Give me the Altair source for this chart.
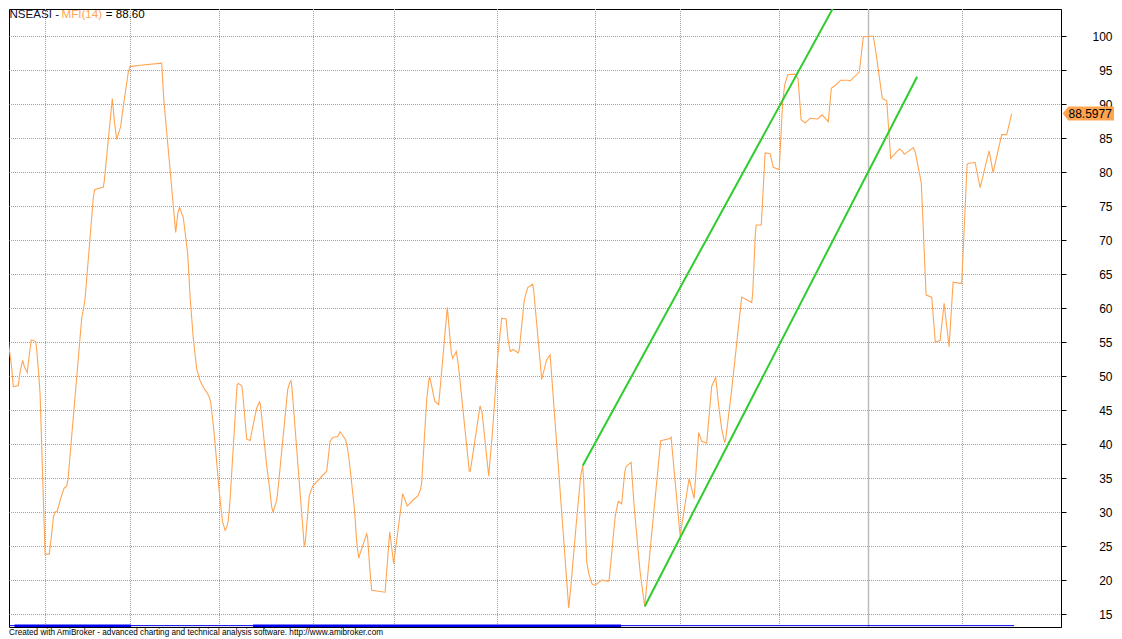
import altair as alt
import pandas as pd

# ---------------- data ----------------
# bar position (one unit = one trading-day slot) and MFI(14) value
bars = [0, 0.6, 1.1, 2.0, 3.2, 4.0, 6.5, 7.4, 8.7, 9.6, 11.0, 11.6, 13.0, 15.2, 15.7, 16.9, 17.4,
        19.9, 22.0, 23.2, 24.1, 24.9, 26.0, 27.4, 29.4, 30.7, 31.4, 38.2, 39.4, 39.9, 44.0, 44.7,
        49.0, 49.5, 53.5, 54.7, 55.7, 57.7, 58.4, 61.5, 62.4, 67.4, 78.2, 79.2, 85.2, 86.2, 87.1,
        89.0, 90.0, 91.2, 92.4, 94.0, 95.7, 97.4, 99.5, 101.0, 102.1, 102.7, 103.7, 104.7, 105.7,
        106.7, 107.7, 108.7, 109.9, 110.7, 111.4, 111.9, 112.4, 115.9, 116.5, 118.2, 118.7, 120.7,
        122.4, 124.0, 125.7, 127.1, 127.6, 129.2, 130.7, 132.2, 133.2, 133.9, 135.7, 136.2, 141.2,
        142.2, 142.9, 143.4, 149.5, 150.0, 152.0, 153.7, 160.7, 161.4, 162.4, 163.9, 166.2, 167.4,
        170.0, 170.7, 171.7, 172.7, 174.7, 175.7, 176.7, 177.4, 180.7, 181.2, 182.2, 183.2, 189.9,
        192.2, 194.2, 198.7, 201.0, 204.0, 206.4, 207.7, 208.2, 209.7, 210.7, 211.7, 212.2, 213.2,
        214.7, 216.7, 221.0, 223.0, 223.7, 225.5, 226.5, 232.0, 232.5, 237.4, 238.4, 241.7, 243.7,
        246.2, 248.2, 250.4, 251.4, 252.5, 253.9, 256.5, 257.0, 259.5, 261.2, 263.7, 264.2, 268.2,
        270.7, 272.4, 273.2, 281.7, 282.7, 285.7, 287.7, 288.7, 289.2, 290.7, 291.7, 293.4, 294.9,
        298.2, 301.5, 302.0, 305.0, 306.5, 308.2, 309.7, 310.4, 312.9, 314.4, 317.4, 319.7, 327.7,
        332.4, 332.9, 337.4, 341.9, 344.4, 345.2, 346.7, 348.2, 350.7, 353.2, 355.2, 356.7, 358.2,
        359.7, 360.2, 363.2, 368.2, 373.2, 373.7, 375.0, 375.5, 378.0, 379.9, 382.4, 384.0, 386.5,
        387.0, 388.7, 389.7, 391.2, 394.9, 396.4, 397.9, 399.9, 402.4, 406.2, 408.4, 411.5, 413.0,
        415.2, 417.7, 421.5, 422.4, 427.0, 429.0, 434.0, 435.5, 438.5, 440.7, 442.7, 447.0, 448.4,
        449.5, 454.0, 455.0, 458.0, 460.4, 463.2, 465.0, 467.4, 469.4, 471.9, 473.9, 478.2, 480.9,
        481.5, 484.9, 487.4, 491.9, 493.9, 498.2, 500.7, 503.2]
mfi = [58.1, 57.3, 56.2, 53.9, 51.2, 48.4, 48.6, 50.6, 52.3, 51.3, 50.5, 52.2, 55.3, 55.1, 53.9, 49.5, 47.3,
       23.8, 23.8, 26.8, 29.3, 30.0, 30.1, 31.7, 33.5, 33.8, 34.9, 58.5, 60.4, 61.4, 76.2, 77.4,
       77.8, 78.7, 90.8, 87.0, 84.8, 86.7, 88.4, 94.7, 95.5, 95.7, 96.0, 90.8, 71.1, 73.8, 74.8,
       73.3, 70.9, 68.0, 61.6, 55.5, 51.0, 49.3, 48.1, 47.5, 46.8, 46.1, 43.6, 40.7, 37.3,
       33.9, 30.9, 28.5, 27.3, 27.7, 28.6, 30.0, 31.9, 48.7, 48.9, 48.6, 47.5, 40.7,
       40.5, 42.9, 45.3, 46.2, 45.7, 41.1, 36.8, 33.4, 30.7, 30.0, 31.7, 32.9, 48.0,
       49.0, 49.3, 48.0, 24.9, 25.6, 32.4, 33.8, 36.0, 37.8, 40.4, 41.0, 41.1, 41.8,
       40.7, 40.0, 38.2, 35.6, 30.0, 25.6, 23.2, 23.9, 26.8, 26.1, 21.8, 18.5, 18.2,
       27.1, 22.4, 32.7, 30.9, 31.8, 32.4, 33.4, 34.4, 41.7, 46.5, 49.2, 49.9, 48.5,
       46.3, 45.8, 60.1, 53.4, 52.6, 53.6, 51.7, 36.0, 36.0, 45.6, 44.6, 35.3, 42.2,
       52.8, 58.5, 58.4, 55.3, 53.6, 53.9, 53.4, 53.9, 61.2, 63.0, 63.5, 62.6, 49.5,
       52.4, 53.1, 50.0, 15.9, 18.8, 29.0, 35.3, 36.8, 34.4, 22.7, 21.0, 19.4, 19.2,
       20.0, 19.8, 20.2, 29.5, 31.6, 31.2, 35.8, 36.7, 37.3, 30.9, 21.2, 16.1, 40.5,
       40.8, 41.0, 26.5, 34.9, 32.0, 35.3, 41.7, 40.4, 40.1, 48.5, 49.8, 45.6, 42.2,
       40.2, 40.7, 48.0, 61.6, 60.8, 62.1, 70.9, 72.2, 72.2, 82.8, 82.7, 80.7, 80.4,
       80.6, 90.4, 92.8, 94.3, 94.4, 93.7, 87.7, 87.2, 87.9, 87.8, 88.4, 87.4, 92.3,
       92.8, 93.5, 93.5, 93.4, 94.7, 99.85, 100.0, 97.2, 90.8, 90.5, 82.0, 83.4, 83.1,
       82.6, 83.6, 82.9, 78.4, 61.9, 61.6, 55.0, 55.2, 60.7, 54.3, 63.8, 63.6, 81.1,
       81.3, 81.4, 77.7, 83.1, 79.9, 85.5, 85.5, 88.5977]

month_grid = [20.1, 62.6, 107.1, 154.1, 194.6, 246.1, 295.1, 337.6, 387.1, 478.6]
year_grid = [431.6]

upper_x = [288.7, 420.0]
upper_v = [36.8, 107.4]
lower_x = [319.7, 455.9]
lower_v = [16.1, 94.0]

ribbon_thin_start = [-0.65]
ribbon_thin_end = [504.4]
ribbon_thick_start = [4.6, 123.9]
ribbon_thick_end = [62.9, 307.9]

y_ticks = [15, 20, 25, 30, 35, 40, 45, 50, 55, 60, 65, 70, 75, 80, 85, 90, 95, 100]
last_value = 88.5977

title_left = "NSEASI -"
title_mid = "MFI(14)"
title_right = "= 88.60"
footer = ("Created with AmiBroker - advanced charting and technical analysis software. "
          "http://www.amibroker.com")

# ---------------- styling ----------------
ORANGE = "#FFA552"
GREEN = "#2ECC2E"
GRID = "#A0A0A0"
FONT = "Liberation Sans"
W, H = 1052, 618
PX_PER_UNIT = 6.8               # 34 px between 5-point grid lines (crisp dotted lines)
Y_TOP = 100 + 27 / PX_PER_UNIT  # value shown at the top edge of the plot
Y_BOTTOM = Y_TOP - H / PX_PER_UNIT
xs = alt.Scale(domain=[1.85, 527.85], nice=False, zero=False)
ys = alt.Scale(domain=[Y_BOTTOM, Y_TOP], nice=False, zero=False)

y_axis = alt.Axis(
    orient="right", values=y_ticks, title=None,
    grid=True, gridColor=GRID, gridDash=[1, 1], gridDashOffset=0.5, gridWidth=1,
    domain=True, domainColor="black", domainWidth=1,
    ticks=True, tickColor="black", tickSize=5, tickWidth=1,
    labelColor="black", labelFont=FONT, labelFontSize=12,
    labelAlign="right", labelBaseline="middle", labelPadding=46,
    labelOverlap=False)

X = lambda f="b:Q": alt.X(f, scale=xs, axis=None)
Y = lambda f="v:Q": alt.Y(f, scale=ys, axis=y_axis)

line_df = pd.DataFrame({"b": bars, "v": mfi})
channel_df = pd.DataFrame({
    "grp": ["upper", "upper", "lower", "lower"],
    "b": upper_x + lower_x,
    "v": upper_v + lower_v,
})
ribbon_level = Y_BOTTOM + 0.2
thin_df = pd.DataFrame({"b": ribbon_thin_start, "b2": ribbon_thin_end, "v": [ribbon_level]})
thick_df = pd.DataFrame({"b": ribbon_thick_start, "b2": ribbon_thick_end,
                         "v": [ribbon_level] * len(ribbon_thick_start)})
label_df = pd.DataFrame({"v": [last_value], "t": [f"{last_value:.4f}"]})

month_rules = alt.Chart(pd.DataFrame({"b": month_grid})).mark_rule(
    color=GRID, strokeDash=[1, 1], strokeWidth=1
).encode(x=X())

year_rules = alt.Chart(pd.DataFrame({"b": year_grid})).mark_rule(
    color="#BDBDBD", strokeWidth=1.5
).encode(x=X())

thin_ribbon = alt.Chart(thin_df).mark_rule(color="#0000F0", strokeWidth=1, clip=True).encode(
    x=X(), x2="b2:Q", y=Y())
thick_ribbon = alt.Chart(thick_df).mark_rule(color="#0000F0", strokeWidth=2.5, clip=True).encode(
    x=X(), x2="b2:Q", y=Y())

mfi_line = alt.Chart(line_df).mark_line(color=ORANGE, strokeWidth=1.1, clip=True).encode(
    x=X(), y=Y(), order="b:Q")

channels = alt.Chart(channel_df).mark_line(color=GREEN, strokeWidth=2, clip=True).encode(
    x=X(), y=Y(), detail="grp:N")

label_shape = alt.Chart(label_df).mark_point(
    shape="M0,0L0.8,-1L7.35,-1L7.35,1L0.8,1Z", size=196, filled=True,
    color=ORANGE, opacity=1, strokeWidth=0
).encode(x=alt.value(W + 1.7), y=Y())

label_text = alt.Chart(label_df).mark_text(
    align="left", baseline="middle", font=FONT, fontSize=12, color="black", dy=0.5
).encode(x=alt.value(W + 7.5), y=Y(), text="t:N")


def text_layer(txt, x, y, color, size, baseline="alphabetic"):
    return alt.Chart(pd.DataFrame({"t": [txt]})).mark_text(
        align="left", baseline=baseline, font=FONT, fontSize=size, color=color
    ).encode(x=alt.value(x), y=alt.value(y), text="t:N")


t1 = text_layer(title_left, 0.5, 8.8, "#101030", 11.6)
t2 = text_layer(title_mid, 52.5, 8.8, ORANGE, 11.6)
t3 = text_layer(title_right, 96.7, 8.8, "black", 11.6)
foot = text_layer(footer, 0, H + 6, "black", 8.2, baseline="middle")

chart = alt.layer(
    month_rules, year_rules, thin_ribbon, thick_ribbon, mfi_line, channels,
    label_shape, label_text, t1, t2, t3, foot
).properties(
    width=W, height=H,
    padding={"left": 1, "top": 1, "right": 53, "bottom": 12},
    autosize=alt.AutoSizeParams(type="none"),
    background="white",
).configure_view(stroke="black", strokeWidth=1)

chart.save("out.html", embed_options={"renderer": "svg", "actions": False})
